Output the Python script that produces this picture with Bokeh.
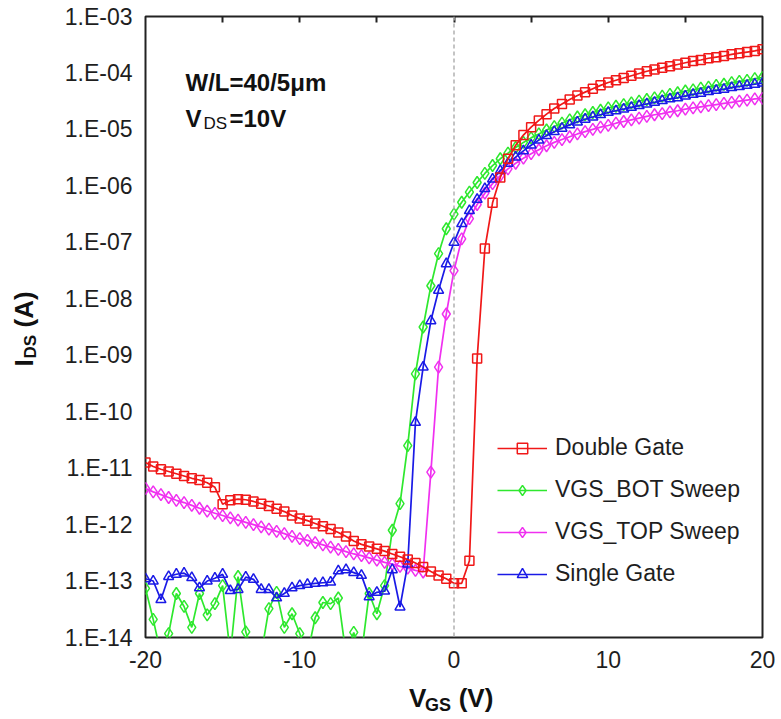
import numpy as np
from bokeh.plotting import figure
from bokeh.layouts import row, column
from bokeh.core.properties import value
from bokeh.models import (Range1d, FixedTicker, CustomJSTickFormatter, LinearAxis,
                          Span, Label, Legend, LegendItem, ColumnDataSource)
from bokeh.embed import file_html
from bokeh.resources import INLINE

# ---------------- data (log10 of I_DS in A), V_GS sweep -20..20 V, 0.5 V step -------------
vgs = [v * 0.5 for v in range(-40, 41)]

log_double_gate = [
    -10.90, -10.97, -11.02, -11.06, -11.10, -11.14, -11.18, -11.21, -11.26, -11.34,   # -20 .. -15.5
    -11.64, -11.57, -11.55, -11.56, -11.59, -11.63, -11.67, -11.72, -11.77, -11.84,   # -15 .. -10.5
    -11.89, -11.93, -11.98, -12.03, -12.08, -12.14, -12.21, -12.29, -12.35, -12.39,   # -10 .. -5.5
    -12.43, -12.47, -12.52, -12.57, -12.62, -12.68, -12.75, -12.83, -12.90, -12.96,   # -5 .. -0.5
    -13.04, -13.04, -12.64, -9.06, -7.11, -6.30, -5.85, -5.52, -5.28, -5.10,          # 0 .. 4.5
    -4.96, -4.84, -4.73, -4.63, -4.55, -4.47, -4.40, -4.34, -4.28, -4.22,             # 5 .. 9.5
    -4.17, -4.13, -4.09, -4.05, -4.01, -3.97, -3.94, -3.91, -3.88, -3.85,             # 10 .. 14.5
    -3.82, -3.79, -3.77, -3.74, -3.72, -3.70, -3.67, -3.65, -3.63, -3.61,             # 15 .. 19.5
    -3.58,                                                                            # 20
]

log_bot_sweep = [
    -13.13, -13.68, -14.30, -13.93, -13.22, -13.45, -13.82, -13.22, -13.60, -13.40,
    -13.08, -14.30, -12.92, -13.90, -14.30, -14.30, -13.49, -13.20, -13.82, -13.58,
    -13.93, -14.30, -13.65, -13.38, -13.40, -13.30, -14.30, -13.91, -14.30, -13.22,
    -13.58, -13.08, -12.10, -11.63, -10.60, -9.33, -8.50, -7.77, -7.20, -6.76,
    -6.50, -6.29, -6.11, -5.94, -5.78, -5.64, -5.52, -5.42, -5.32, -5.23,
    -5.15, -5.08, -5.01, -4.95, -4.89, -4.83, -4.78, -4.74, -4.70, -4.66,
    -4.62, -4.59, -4.56, -4.53, -4.50, -4.47, -4.44, -4.41, -4.38, -4.35,
    -4.32, -4.30, -4.27, -4.25, -4.22, -4.20, -4.17, -4.15, -4.13, -4.10,
    -4.08,
]

log_top_sweep = [
    -11.36, -11.42, -11.47, -11.52, -11.57, -11.61, -11.66, -11.71, -11.76, -11.80,
    -11.84, -11.88, -11.92, -11.96, -12.00, -12.04, -12.08, -12.12, -12.16, -12.21,
    -12.25, -12.28, -12.32, -12.36, -12.40, -12.44, -12.48, -12.52, -12.55, -12.59,
    -12.63, -12.67, -12.70, -12.74, -12.77, -12.81, -12.84, -11.07, -9.21, -8.27,
    -7.50, -6.94, -6.58, -6.33, -6.13, -5.96, -5.82, -5.70, -5.60, -5.51,
    -5.43, -5.36, -5.29, -5.23, -5.18, -5.13, -5.08, -5.04, -5.00, -4.96,
    -4.93, -4.89, -4.86, -4.83, -4.80, -4.77, -4.74, -4.72, -4.69, -4.67,
    -4.64, -4.62, -4.60, -4.58, -4.56, -4.54, -4.52, -4.50, -4.48, -4.46,
    -4.45,
]

log_single_gate = [
    -12.96, -13.00, -13.33, -12.92, -12.88, -12.86, -12.94, -13.12, -13.00, -12.95,
    -12.88, -13.17, -13.15, -12.93, -12.97, -13.15, -13.15, -13.30, -13.22, -13.12,
    -13.08, -13.06, -13.04, -13.03, -13.02, -12.82, -12.80, -12.85, -12.90, -13.28,
    -13.20, -13.18, -12.80, -13.46, -12.70, -10.19, -9.21, -8.39, -7.85, -7.38,
    -7.00, -6.67, -6.44, -6.24, -6.05, -5.88, -5.73, -5.60, -5.49, -5.38,
    -5.28, -5.19, -5.11, -5.04, -4.98, -4.92, -4.87, -4.82, -4.78, -4.74,
    -4.70, -4.67, -4.64, -4.61, -4.58, -4.55, -4.52, -4.49, -4.46, -4.44,
    -4.41, -4.38, -4.36, -4.33, -4.31, -4.29, -4.26, -4.24, -4.22, -4.20,
    -4.18,
]

series_names = ["Double Gate", "VGS_BOT Sweep", "VGS_TOP Sweep", "Single Gate"]
y_ticks_exp = list(range(-14, -2))
x_tick_labels = [-20, -10, 0, 10, 20]
x_top_ticks = [-15, -10, -5, 0, 5, 10, 15]

# ---------------- layout geometry (page pixels) ----------------
FONT = "Liberation Sans"
TXT = "#1e1e1e"
LEFT_W = 45          # strip holding the rotated y label
TOTAL_H = 716
MAIN_H = 679         # main figure height
XLAB_H = TOTAL_H - MAIN_H
MAIN_W = 733

# ---------------- main figure ----------------
p = figure(width=MAIN_W, height=MAIN_H, y_axis_type="log",
           x_range=Range1d(-20, 20), y_range=Range1d(1e-14, 1e-3),
           output_backend="svg", toolbar_location=None,
           min_border_left=100, min_border_right=16, min_border_top=16, min_border_bottom=42)
p.grid.visible = False
p.outline_line_color = "#222222"
p.outline_line_width = 2
p.background_fill_color = "white"
p.border_fill_color = "white"

# y axis
ya = p.yaxis[0]
ya.ticker = FixedTicker(ticks=[10.0 ** e for e in y_ticks_exp], minor_ticks=[])
ya.formatter = CustomJSTickFormatter(code="""
const e = Math.round(Math.log10(tick));
const a = Math.abs(e);
return '1.E' + (e < 0 ? '-' : '+') + (a < 10 ? '0' : '') + a;
""")
ya.major_tick_in = 0
ya.major_tick_out = 0
ya.minor_tick_line_color = None
ya.axis_line_color = None
ya.major_label_standoff = 13
ya.major_label_text_font = FONT
ya.major_label_text_font_size = "23px"
ya.major_label_text_color = TXT

# bottom x axis
xa = p.xaxis[0]
xa.ticker = FixedTicker(ticks=x_tick_labels, minor_ticks=[])
xa.formatter = CustomJSTickFormatter(code="return String(Math.round(tick));")
xa.major_tick_in = 0
xa.major_tick_out = 0
xa.minor_tick_line_color = None
xa.axis_line_color = None
xa.major_label_standoff = 13
xa.major_label_text_font = FONT
xa.major_label_text_font_size = "23px"
xa.major_label_text_color = TXT

# top axis: only inward ticks
top = LinearAxis(ticker=FixedTicker(ticks=x_top_ticks, minor_ticks=[]),
                 formatter=CustomJSTickFormatter(code="return '';"),
                 major_tick_in=6, major_tick_out=0, minor_tick_line_color=None,
                 major_tick_line_color="#222222", major_tick_line_width=2,
                 axis_line_color=None, major_label_standoff=0,
                 major_label_text_font_size="0px")
p.add_layout(top, "above")

# dashed zero line
p.add_layout(Span(location=0, dimension="height", line_color="#b0b0b0",
                  line_dash="4 3", line_width=1.5))

# ---------------- series ----------------
specs = [
    (log_bot_sweep,   "#2ee82e", "diamond",  12),
    (log_top_sweep,   "#f030f0", "diamond",  12),
    (log_single_gate, "#1a1ae6", "triangle", 10),
    (log_double_gate, "#f01818", "square",    9),
]
renderers = {}
for name_idx, (vals, col, mk, sz) in zip([1, 2, 3, 0], specs):
    src = ColumnDataSource(dict(x=vgs, y=[10.0 ** v for v in vals]))
    ln = p.line("x", "y", source=src, line_color=col, line_width=1.7)
    sc = p.scatter("x", "y", source=src, marker=mk, size=sz, line_color=col,
                   line_width=1.5, fill_alpha=0)
    renderers[name_idx] = [ln, sc]

legend = Legend(items=[LegendItem(label=series_names[i], renderers=renderers[i]) for i in range(4)],
                location=(352, 50), orientation="vertical",
                glyph_width=50, glyph_height=26, label_height=26, spacing=15,
                label_standoff=8, padding=0, margin=0,
                border_line_alpha=0, background_fill_alpha=0,
                label_text_font=FONT, label_text_font_size="23px", label_text_color=TXT)
p.add_layout(legend, "center")

# top-left annotation inside the frame (screen units from frame bottom-left)
FL, FB = 145, 637


def inlab(text, px, py, size, bold=True):
    p.add_layout(Label(x=px - FL, y=FB - py, x_units="screen", y_units="screen",
                       text=text, text_font=FONT, text_font_size=size,
                       text_font_style="bold" if bold else "normal",
                       text_color="#111111", text_baseline="alphabetic",
                       text_align="left"))


inlab("W/L=40/5\u03bcm", 185, 82, "24px")
inlab("V", 185, 118, "24px")
inlab("DS", 203, 123, "17px", bold=False)
inlab("=10V", 229, 118, "24px")


# ---------------- strips holding the axis titles ----------------
def strip(w, h):
    f = figure(width=w, height=h, x_range=Range1d(0, w), y_range=Range1d(0, h),
               output_backend="svg", toolbar_location=None, min_border=0,
               x_axis_location=None, y_axis_location=None)
    f.grid.visible = False
    f.outline_line_color = None
    f.background_fill_color = "white"
    f.border_fill_color = "white"
    return f


def put(f, text, fx, fy, size, angle=0.0):
    f.text(x=[fx], y=[fy], text=[text], angle=angle,
           text_font=value(FONT), text_font_size=value(size), text_font_style="bold",
           text_color="#111111", text_baseline="alphabetic", text_align="left")


# y title strip
ystrip = strip(LEFT_W, TOTAL_H)
r90 = np.pi / 2
put(ystrip, "I", 23.5, TOTAL_H - 366, "26px", r90)
put(ystrip, "DS", 29.5, TOTAL_H - 358, "17px", r90)
put(ystrip, "(A)", 23.5, TOTAL_H - 327, "26px", r90)

# x title strip (offset measured from the rendered page)
xstrip = strip(MAIN_W, XLAB_H)
XOFF = 2 * LEFT_W
put(xstrip, "V", 403 - XOFF, 18.5, "26px")
put(xstrip, "GS", 422 - XOFF, 11.5, "18px")
put(xstrip, "(V)", 462 - XOFF, 18.5, "26px")

layout = row(ystrip, column(p, xstrip, spacing=0), spacing=0)

open("out.html", "w").write(file_html(layout, INLINE))
